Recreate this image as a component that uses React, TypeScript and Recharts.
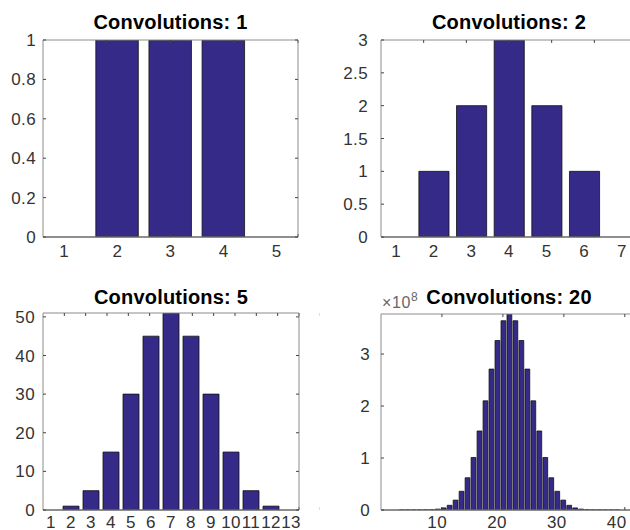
import React from 'react';
import { BarChart, Bar, XAxis, YAxis, ReferenceLine } from 'recharts';

// bar positions (x) and heights
const conv1X = [1, 2, 3, 4, 5];
const conv1Values = [0, 1, 1, 1, 0];
const conv1YTicks = [0, 0.2, 0.4, 0.6, 0.8, 1];
const conv1XTicks = [1, 2, 3, 4, 5];

const conv2X = [1, 2, 3, 4, 5, 6, 7];
const conv2Values = [0, 1, 2, 3, 2, 1, 0];
const conv2YTicks = [0, 0.5, 1, 1.5, 2, 2.5, 3];
const conv2XTicks = [1, 2, 3, 4, 5, 6, 7];

const conv5X = [1, 2, 3, 4, 5, 6, 7, 8, 9, 10, 11, 12, 13];
const conv5Values = [0, 1, 5, 15, 30, 45, 51, 45, 30, 15, 5, 1, 0];
const conv5YTicks = [0, 10, 20, 30, 40, 50];
const conv5XTicks = [1, 2, 3, 4, 5, 6, 7, 8, 9, 10, 11, 12, 13];

const conv20X = [
  1, 2, 3, 4, 5, 6, 7, 8, 9, 10, 11, 12, 13, 14, 15, 16, 17, 18, 19, 20, 21, 22,
  23, 24, 25, 26, 27, 28, 29, 30, 31, 32, 33, 34, 35, 36, 37, 38, 39, 40, 41, 42, 43,
];
// in units of 1e8
const conv20Values = [
  0, 0, 0, 0.00001, 0.00005, 0.0002, 0.0008, 0.0025, 0.007, 0.017, 0.04, 0.09,
  0.19, 0.36, 0.62, 1.01, 1.52, 2.1, 2.71, 3.26, 3.64, 3.77, 3.64, 3.26, 2.71,
  2.1, 1.52, 1.01, 0.62, 0.36, 0.19, 0.09, 0.04, 0.017, 0.007, 0.0025, 0.0008,
  0.0002, 0.00005, 0.00001, 0, 0, 0,
];
const conv20YTicks = [0, 1, 2, 3];
const conv20XTicks = [10, 20, 30, 40];

const toRows = (xs: number[], ys: number[]) => xs.map((x, i) => ({ x, y: ys[i] }));

const BAR_FILL = '#352a87';
const BAR_EDGE = '#111111';
const BOX = '#8c8c8c';
const TICK_TEXT = '#333333';
const FONT = '"Liberation Sans", Arial, Helvetica, sans-serif';
const Y_AXIS_W = 35;

interface PanelProps {
  left: number;
  top: number;
  width: number;
  height: number;
  margin: { top: number; right: number; bottom: number; left: number };
  data: { x: number; y: number }[];
  xDomain: [number, number];
  xTicks: number[];
  xTickMargin: number;
  yDomain: [number, number];
  yTicks: number[];
  yTickMargin: number;
  title: string;
  titleTop: number;
  exponent?: string;
}

function Panel({
  left,
  top,
  width,
  height,
  margin,
  data,
  xDomain,
  xTicks,
  xTickMargin,
  yDomain,
  yTicks,
  yTickMargin,
  title,
  titleTop,
  exponent,
}: PanelProps) {
  const plotLeft = margin.left + Y_AXIS_W;
  const plotW = width - plotLeft - margin.right;
  const barSize = (0.8 * plotW) / (xDomain[1] - xDomain[0]);
  const tickFont = {
    fontSize: 17,
    fill: TICK_TEXT,
    fontFamily: FONT,
    letterSpacing: 0.4,
  };
  const blank = () => '';

  return (
    <div style={{ position: 'absolute', left, top, width, height }}>
      <div
        style={{
          position: 'absolute',
          left: plotLeft,
          top: titleTop,
          width: plotW,
          textAlign: 'center',
          fontFamily: FONT,
          fontWeight: 'bold',
          fontSize: 20,
          lineHeight: '20px',
          letterSpacing: 0.2,
          color: '#000',
          whiteSpace: 'nowrap',
        }}
      >
        {title}
      </div>
      {exponent && (
        <div
          style={{
            position: 'absolute',
            left: plotLeft + 1,
            top: margin.top - 19,
            fontFamily: FONT,
            fontSize: 16,
            lineHeight: '16px',
            letterSpacing: 0.6,
            color: '#666',
            whiteSpace: 'nowrap',
          }}
        >
          ×10
          <span style={{ position: 'relative', top: -7, fontSize: 12 }}>{exponent}</span>
        </div>
      )}
      <BarChart width={width} height={height} data={data} margin={margin}>
        <XAxis
          xAxisId="b"
          dataKey="x"
          type="number"
          domain={xDomain}
          ticks={xTicks}
          allowDataOverflow
          interval={0}
          height={20}
          tickSize={0}
          tickMargin={xTickMargin}
          tickLine={false}
          axisLine={{ stroke: BOX }}
          tick={tickFont}
        />
        <XAxis
          xAxisId="bt"
          type="number"
          orientation="bottom"
          mirror
          domain={xDomain}
          ticks={xTicks}
          allowDataOverflow
          interval={0}
          tickSize={3}
          tickFormatter={blank}
          axisLine={false}
          tickLine={{ stroke: '#444' }}
        />
        <XAxis
          xAxisId="t"
          type="number"
          orientation="top"
          mirror
          domain={xDomain}
          ticks={xTicks}
          allowDataOverflow
          interval={0}
          tickSize={3}
          tickFormatter={blank}
          axisLine={{ stroke: BOX }}
          tickLine={{ stroke: '#444' }}
        />
        <YAxis
          yAxisId="l"
          type="number"
          domain={yDomain}
          ticks={yTicks}
          allowDataOverflow
          interval={0}
          width={Y_AXIS_W}
          tickSize={0}
          tickMargin={yTickMargin}
          tickLine={false}
          axisLine={{ stroke: BOX }}
          tick={tickFont}
        />
        <YAxis
          yAxisId="lt"
          type="number"
          orientation="left"
          mirror
          domain={yDomain}
          ticks={yTicks}
          allowDataOverflow
          interval={0}
          tickSize={3}
          tickFormatter={blank}
          axisLine={false}
          tickLine={{ stroke: '#444' }}
        />
        <YAxis
          yAxisId="r"
          type="number"
          orientation="right"
          mirror
          domain={yDomain}
          ticks={yTicks}
          allowDataOverflow
          interval={0}
          tickSize={3}
          tickFormatter={blank}
          axisLine={{ stroke: BOX }}
          tickLine={{ stroke: '#444' }}
        />
        <Bar
          xAxisId="b"
          yAxisId="l"
          dataKey="y"
          fill={BAR_FILL}
          stroke={BAR_EDGE}
          strokeWidth={0.8}
          barSize={barSize}
          isAnimationActive={false}
        />
        <ReferenceLine xAxisId="b" yAxisId="l" y={0} stroke="#222" strokeWidth={1} />
      </BarChart>
    </div>
  );
}

export default function App() {
  return (
    <div
      style={{
        position: 'absolute',
        left: 0,
        top: 0,
        width: 630,
        height: 530,
        overflow: 'hidden',
        background: '#fff',
      }}
    >
      <Panel
        left={0}
        top={0}
        width={320}
        height={265}
        margin={{ top: 40, right: 22, bottom: 8, left: 8 }}
        data={toRows(conv1X, conv1Values)}
        xDomain={[0.6, 5.4]}
        xTicks={conv1XTicks}
        xTickMargin={8}
        yDomain={[0, 1]}
        yTicks={conv1YTicks}
        yTickMargin={7}
        title="Convolutions: 1"
        titleTop={12}
      />
      <Panel
        left={320}
        top={0}
        width={320}
        height={265}
        margin={{ top: 40, right: 3, bottom: 8, left: 26 }}
        data={toRows(conv2X, conv2Values)}
        xDomain={[0.6, 7.4]}
        xTicks={conv2XTicks}
        xTickMargin={8}
        yDomain={[0, 3]}
        yTicks={conv2YTicks}
        yTickMargin={13}
        title="Convolutions: 2"
        titleTop={12}
      />
      <Panel
        left={0}
        top={265}
        width={320}
        height={265}
        margin={{ top: 48, right: 21, bottom: 0, left: 8 }}
        data={toRows(conv5X, conv5Values)}
        xDomain={[0.6, 13.4]}
        xTicks={conv5XTicks}
        xTickMargin={6}
        yDomain={[0, 51]}
        yTicks={conv5YTicks}
        yTickMargin={8}
        title="Convolutions: 5"
        titleTop={22}
      />
      <Panel
        left={320}
        top={265}
        width={320}
        height={265}
        margin={{ top: 49, right: 3, bottom: 0, left: 26 }}
        data={toRows(conv20X, conv20Values)}
        xDomain={[0.6, 43.4]}
        xTicks={conv20XTicks}
        xTickMargin={6}
        yDomain={[0, 3.77]}
        yTicks={conv20YTicks}
        yTickMargin={11}
        title="Convolutions: 20"
        titleTop={22}
        exponent="8"
      />
    </div>
  );
}
